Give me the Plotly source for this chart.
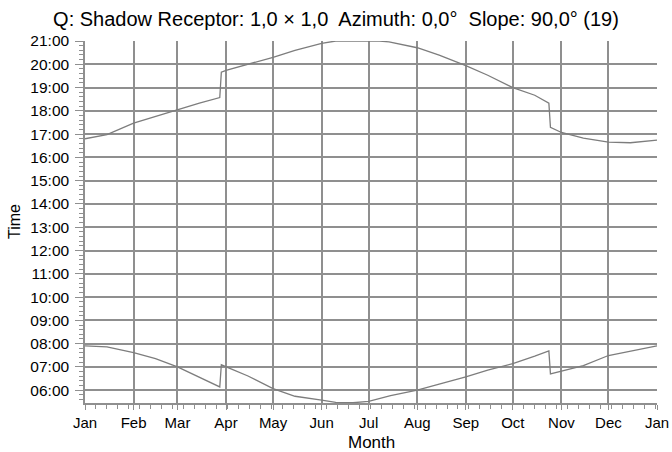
"""
Shadow receptor chart using Plotly
"""

import plotly.graph_objects as go

# Upper curve (evening)
upper_dates = ['2015-01-01', '2015-01-15', '2015-02-01', '2015-02-15', '2015-03-01',
               '2015-03-15', '2015-03-28', '2015-03-29', '2015-04-01', '2015-04-15',
               '2015-05-01', '2015-05-15', '2015-06-01', '2015-06-10', '2015-06-21',
               '2015-07-08', '2015-07-14', '2015-08-01', '2015-08-15', '2015-09-01',
               '2015-09-15', '2015-10-01', '2015-10-15', '2015-10-24', '2015-10-25',
               '2015-11-01', '2015-11-15', '2015-12-01', '2015-12-15', '2016-01-01']
upper_hours = [16.80, 16.98, 17.47, 17.76, 18.04,
               18.33, 18.57, 19.66, 19.74, 20.00,
               20.30, 20.60, 20.90, 21.00, 21.00,
               21.00, 20.96, 20.71, 20.39, 19.94,
               19.53, 19.00, 18.67, 18.33, 17.29,
               17.07, 16.83, 16.66, 16.63, 16.74]

# Lower curve (morning)
lower_dates = ['2015-01-01', '2015-01-15', '2015-02-01', '2015-02-15', '2015-03-01',
               '2015-03-15', '2015-03-28', '2015-03-29', '2015-04-01', '2015-04-15',
               '2015-05-01', '2015-05-15', '2015-06-01', '2015-06-10', '2015-06-21',
               '2015-07-01', '2015-07-15', '2015-08-01', '2015-08-15', '2015-09-01',
               '2015-09-15', '2015-10-01', '2015-10-15', '2015-10-24', '2015-10-25',
               '2015-11-01', '2015-11-15', '2015-12-01', '2015-12-15', '2016-01-01']
lower_hours = [7.90, 7.86, 7.61, 7.36, 7.00,
               6.56, 6.14, 7.09, 7.00, 6.61,
               6.07, 5.74, 5.57, 5.48, 5.46,
               5.52, 5.77, 6.00, 6.26, 6.57,
               6.86, 7.14, 7.46, 7.69, 6.70,
               6.81, 7.06, 7.49, 7.67, 7.90]

hour_ticks = list(range(6, 22))
hour_labels = ['%02d:00' % h for h in hour_ticks]

title = 'Q: Shadow Receptor: 1,0 × 1,0  Azimuth: 0,0°  Slope: 90,0° (19)'

GRID = '#8f8f8f'
LINE = '#7d7d7d'

fig = go.Figure()

for dates, hours in [(upper_dates, upper_hours), (lower_dates, lower_hours)]:
    fig.add_trace(go.Scatter(
        x=dates,
        y=hours,
        mode='lines',
        line=dict(color=LINE, width=1.3),
        showlegend=False,
        cliponaxis=True,
    ))

fig.update_layout(
    width=672,
    height=452,
    margin=dict(l=85, r=15, t=41, b=49),
    paper_bgcolor='white',
    plot_bgcolor='white',
    font=dict(family='Liberation Sans, Arial, sans-serif', size=15, color='black'),
    title=dict(text=title, x=0.5, xref='container', y=1 - 19 / 452,
               yref='container', xanchor='center', yanchor='middle',
               font=dict(size=20)),
)

# axis titles as annotations so the plot area stays put
fig.add_annotation(text='Time', x=-71 / 572, xref='paper', y=0.5, yref='paper',
                   xanchor='center', yanchor='middle',
                   showarrow=False, textangle=-90, font=dict(size=16))
fig.add_annotation(text='Month', x=0.5, xref='paper', y=-39 / 362, yref='paper',
                   xanchor='center', yanchor='middle',
                   showarrow=False, font=dict(size=17))

fig.update_xaxes(
    type='date',
    range=['2015-01-01', '2016-01-01'],
    dtick='M1',
    tick0='2015-01-01',
    tickformat='%b',
    showgrid=True,
    gridcolor=GRID,
    gridwidth=1.5,
    showline=True,
    linecolor=GRID,
    linewidth=1.5,
    ticks='outside',
    ticklen=5,
    tickcolor=GRID,
    minor=dict(ticks='outside', ticklen=4, tickcolor=GRID, dtick=7 * 86400000,
               tick0='2015-01-01', showgrid=False),
    zeroline=False,
    automargin=False,
)

fig.update_yaxes(
    range=[5.45, 21.0],
    tickvals=hour_ticks,
    ticktext=hour_labels,
    tickfont=dict(size=15.5),
    showgrid=True,
    gridcolor=GRID,
    gridwidth=1.5,
    showline=True,
    linecolor=GRID,
    linewidth=1.5,
    ticks='outside',
    ticklen=8,
    tickcolor=GRID,
    ticklabelstandoff=3,
    minor=dict(ticks='outside', ticklen=4, tickcolor=GRID, dtick=0.2, tick0=0,
               showgrid=False),
    zeroline=False,
    automargin=False,
)

# drop the default page margin so the figure fills the window exactly
fig.write_html("out.html",
               config={'displayModeBar': False},
               post_script="document.body.style.margin='0';"
                           "document.body.style.overflow='hidden';")
